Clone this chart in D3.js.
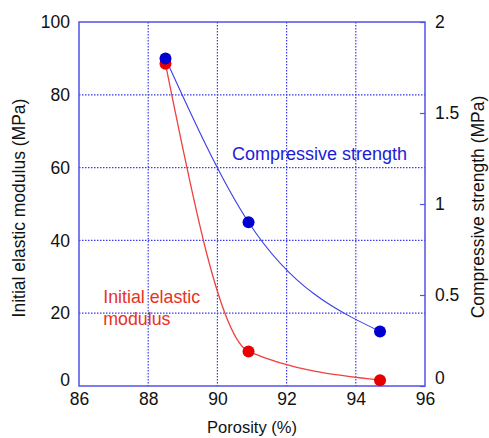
<!DOCTYPE html>
<html>
<head>
<meta charset="utf-8">
<script src="https://cdn.jsdelivr.net/npm/d3@7"></script>
<style>
  body { margin: 0; background: #fff; }
  svg { display: block; font-family: "Liberation Sans", Arial, sans-serif; }
</style>
</head>
<body>
<svg id="chart" width="489" height="438"></svg>
<script>
const porosity = [88.5, 90.9, 94.7];
const elasticModulus = [88.5, 9.5, 1.6];
const compressiveStrength = [1.8, 0.9, 0.3];
const xTicks = [86, 88, 90, 92, 94, 96];
const yLeftTicks = [0, 20, 40, 60, 80, 100];
const yRightTicks = [0, 0.5, 1, 1.5, 2];
const yRightLabels = ["0", "0.5", "1", "1.5", "2"];

const svg = d3.select("#chart");
const margin = { top: 22, right: 64, bottom: 52, left: 79 };
const width = 489 - margin.left - margin.right;
const height = 438 - margin.top - margin.bottom;
const frame = "#5252e6";

const chart = svg.append("g")
  .attr("transform", `translate(${margin.left}, ${margin.top})`);

const x = d3.scaleLinear().domain([86, 96]).range([0, width]);
const yL = d3.scaleLinear().domain([0, 100]).range([height, 0]);
const yR = d3.scaleLinear().domain([0, 2]).range([height, 0]);

// dotted grid
chart.append("g")
  .selectAll("line")
  .data(xTicks.slice(1, -1))
  .enter().append("line")
  .attr("x1", d => x(d)).attr("x2", d => x(d))
  .attr("y1", 0).attr("y2", height)
  .attr("stroke", "#3a3aee").attr("stroke-width", 1.2)
  .attr("stroke-dasharray", "1.5,1.5");
chart.append("g")
  .selectAll("line")
  .data(yLeftTicks.slice(1, -1))
  .enter().append("line")
  .attr("x1", 0).attr("x2", width)
  .attr("y1", d => yL(d)).attr("y2", d => yL(d))
  .attr("stroke", "#3a3aee").attr("stroke-width", 1.2)
  .attr("stroke-dasharray", "1.5,1.5");

// bottom axis
const xAxis = chart.append("g")
  .attr("transform", `translate(0, ${height})`)
  .call(d3.axisBottom(x).tickValues(xTicks).tickSize(0).tickPadding(7));
xAxis.select(".domain").remove();
xAxis.selectAll("text").attr("font-size", 17.5).attr("fill", "#111").attr("font-family", null);

// left axis
const yAxisL = chart.append("g")
  .call(d3.axisLeft(yL).tickValues(yLeftTicks).tickSize(0).tickPadding(9));
yAxisL.select(".domain").remove();
yAxisL.selectAll("text").attr("font-size", 17.5).attr("fill", "#111").attr("font-family", null);
yAxisL.selectAll(".tick").filter(d => d === 0).select("text").attr("dy", "-0.05em");

// right axis with inward ticks
const yAxisR = chart.append("g")
  .attr("transform", `translate(${width}, 0)`)
  .call(d3.axisRight(yR).tickValues(yRightTicks).tickFormat((d, i) => yRightLabels[i]).tickSize(-5).tickPadding(10));
yAxisR.select(".domain").remove();
yAxisR.selectAll("line").attr("stroke", frame).attr("stroke-width", 1.2);
yAxisR.selectAll("text").attr("font-size", 17.5).attr("fill", "#111").attr("font-family", null);
yAxisR.selectAll(".tick").filter(d => d === 0).select("text").attr("dy", "-0.15em");

// plot frame
chart.append("rect")
  .attr("x", 0).attr("y", 0)
  .attr("width", width).attr("height", height)
  .attr("fill", "none").attr("stroke", frame).attr("stroke-width", 1.5);

// smooth lines
const redPts = porosity.map((p, i) => [x(p), yL(elasticModulus[i])]);
const bluePts = porosity.map((p, i) => [x(p), yR(compressiveStrength[i])]);
const line = d3.line().curve(d3.curveMonotoneX);

chart.append("path")
  .attr("d", line(redPts))
  .attr("fill", "none").attr("stroke", "#f04040").attr("stroke-width", 1.3);
chart.append("path")
  .attr("d", line(bluePts))
  .attr("fill", "none").attr("stroke", "#3c3ce6").attr("stroke-width", 1.1);

chart.selectAll(".red-dot")
  .data(redPts).enter().append("circle")
  .attr("cx", d => d[0]).attr("cy", d => d[1]).attr("r", 6)
  .attr("fill", "#e80000");
chart.selectAll(".blue-dot")
  .data(bluePts).enter().append("circle")
  .attr("cx", d => d[0]).attr("cy", d => d[1]).attr("r", 6)
  .attr("fill", "#0000d0");

// annotations
chart.append("text")
  .attr("x", x(92.95)).attr("y", yR(1.27))
  .attr("font-size", 18).attr("fill", "#1c1cd6")
  .attr("text-anchor", "middle").attr("dominant-baseline", "middle")
  .text("Compressive strength");
const redLabel = chart.append("text")
  .attr("font-size", 17.8).attr("fill", "#e8321e");
redLabel.append("tspan").attr("x", x(86.7)).attr("y", yL(22.8)).text("Initial elastic");
redLabel.append("tspan").attr("x", x(86.7)).attr("y", yL(16.8)).text("modulus");

// axis titles
svg.append("text")
  .attr("x", margin.left + width / 2).attr("y", 433)
  .attr("text-anchor", "middle").attr("font-size", 16.5).attr("fill", "#111")
  .text("Porosity (%)");
svg.append("text")
  .attr("transform", `translate(25, ${margin.top + 186}) rotate(-90)`)
  .attr("text-anchor", "middle").attr("font-size", 17.5).attr("fill", "#111")
  .text("Initial elastic modulus (MPa)");
svg.append("text")
  .attr("transform", `translate(484, ${margin.top + 185}) rotate(-90)`)
  .attr("text-anchor", "middle").attr("font-size", 17.5).attr("fill", "#111")
  .text("Compressive strength (MPa)");
</script>
</body>
</html>
